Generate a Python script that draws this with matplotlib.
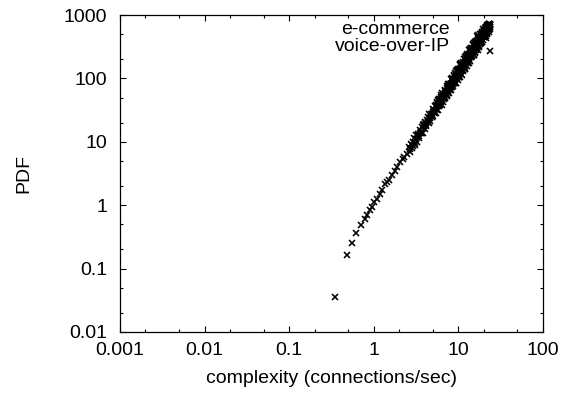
import matplotlib
matplotlib.use("Agg")
import matplotlib.pyplot as plt
from matplotlib.ticker import LogLocator, NullFormatter, FixedLocator

plt.rcParams['font.family'] = ['Liberation Sans', 'DejaVu Sans']

# e-commerce: sparse low tail plus part of the dense band
ecom_x = [0.35, 0.479, 0.557, 0.617, 0.70, 0.787, 0.83, 0.902, 0.95, 1.01,
          1.08, 1.18, 1.25, 1.36, 1.45, 1.52, 1.65, 1.78, 1.9, 2.04,
          2.2, 2.3, 2.45,
          2.6, 2.8, 3.0, 3.2, 3.4, 3.6, 3.8, 4.0, 4.2, 4.5,
          4.75, 5.0, 5.3, 5.6, 5.9, 6.2, 6.5, 6.8, 7.1, 7.4,
          7.7, 8.0, 8.3, 8.6, 8.9, 9.2, 9.6, 10.0, 10.4, 10.8,
          11.2, 11.6, 12.0, 12.5, 13.0, 13.5, 14.0, 14.5, 15.0, 15.6,
          16.2, 16.8, 17.4, 18.0, 18.6, 19.2, 19.8, 20.4, 21.0, 21.6,
          22.2, 22.8, 23.4, 24.0, 24.0,
          9.3, 9.5, 9.7, 9.9, 10.1, 10.3, 10.5, 10.7, 10.9, 11.1,
          11.3, 11.5, 11.7, 11.9, 12.12, 12.37, 12.62, 12.87, 13.12, 13.37,
          13.62, 13.87, 14.12, 14.37, 14.62, 14.87, 15.15, 15.45, 15.75, 16.05,
          16.35, 16.65, 16.95, 17.25, 17.55, 17.85, 18.15, 18.45, 18.75, 19.05,
          19.35, 19.65, 19.95, 20.25, 20.55, 20.85, 21.15, 21.45, 21.75, 22.05,
          22.35, 22.65, 22.95, 23.25, 23.55, 23.85,
          5.1, 5.25, 5.4, 5.55, 5.7, 5.85, 6.0, 6.15, 6.3, 6.45,
          6.6, 6.75, 6.9, 7.05, 7.2, 7.35, 7.5, 7.65, 7.8, 7.95,
          8.1, 8.25, 8.4, 8.55, 8.7, 8.85, 9.0, 9.15]
ecom_y = [0.035, 0.164, 0.253, 0.359, 0.48, 0.613, 0.70, 0.851, 0.95, 1.11,
          1.27, 1.51, 1.75, 2.17, 2.35, 2.51, 3.0, 3.52, 4.0, 4.77,
          5.4, 5.8, 6.48,
          8.3, 9.0, 11.5, 11.2, 11.6, 14.0, 14.0, 15.9, 18.6, 19.6,
          27.9, 29.5, 37.2, 43.2, 43.3, 54.7, 49.1, 48.0, 56.6, 54.0,
          59.3, 69.6, 66.9, 98.4, 98.2, 121, 138, 132, 170, 141,
          131, 155, 141, 157, 187, 175, 279, 274, 335, 379,
          361, 460, 380, 351, 415, 374, 408, 477, 438, 686,
          663, 734, 705, 706, 270,
          84.9, 132, 112, 141, 104, 140, 122, 177, 115, 157,
          136, 185, 162, 142, 219, 187, 234, 173, 233, 202,
          292, 190, 259, 225, 305, 266, 234, 362, 309, 386,
          284, 382, 332, 478, 310, 421, 366, 495, 431, 377,
          522, 490, 546, 444, 592, 510, 656, 470, 636, 548,
          705, 639, 575, 730, 657, 711,
          31.5, 29.0, 38.1, 31.4, 37.4, 47.3, 39.8, 37.7, 50.6, 49.3,
          53.6, 48.9, 63.4, 51.7, 60.7, 76.1, 63.5, 59.3, 78.9, 76.1,
          82.2, 74.2, 95.3, 77.3, 90.0, 112, 92.7, 86.0]

# voice-over-IP: the rest of the dense band
voip_x = [2.7, 2.9, 3.1, 3.3, 3.5, 3.7, 3.9, 4.1, 4.35, 4.6,
          4.9, 5.15, 5.45, 5.75, 6.05, 6.35, 6.65, 6.95, 7.25, 7.55,
          7.85, 8.15, 8.45, 8.75, 9.05, 9.4, 9.8, 10.2, 10.6, 11.0,
          11.4, 11.8, 12.25, 12.75, 13.25, 13.75, 14.25, 14.75, 15.3, 15.9,
          16.5, 17.1, 17.7, 18.3, 18.9, 19.5, 20.1, 20.7, 21.3, 21.9,
          22.5, 23.1, 23.7,
          2.65, 2.75, 2.85, 2.95, 3.05, 3.15, 3.25, 3.35, 3.45, 3.55,
          3.65, 3.75, 3.85, 3.95, 4.05, 4.15, 4.27, 4.42, 4.55, 4.68,
          4.82, 4.95,
          5.07, 5.22, 5.37, 5.52, 5.67, 5.82, 5.97, 6.12, 6.27, 6.42,
          6.57, 6.72, 6.87, 7.02, 7.17, 7.32, 7.47, 7.62, 7.77, 7.92,
          8.07, 8.22, 8.37, 8.52, 8.67, 8.82, 8.97, 9.12,
          9.45, 9.65, 9.85, 10.05, 10.25, 10.45, 10.65, 10.85, 11.05, 11.25,
          11.45, 11.65, 11.85, 12.05, 12.3, 12.55, 12.8, 13.05, 13.3, 13.55,
          13.8, 14.05, 14.3, 14.55, 14.8, 15.1, 15.4, 15.7, 16.0, 16.3,
          16.6, 16.9, 17.2, 17.5, 17.8, 18.1, 18.4, 18.7, 19.0, 19.3,
          19.6, 19.9, 20.2, 20.5, 20.8, 21.1, 21.4, 21.7, 22.0, 22.3,
          22.6, 22.9, 23.2, 23.5, 23.8]
voip_y = [7.0, 8.6, 9.0, 13.1, 13.9, 17.0, 19.4, 19.9, 24.9, 23.9,
          24.8, 29.1, 28.6, 32.3, 38.9, 38.3, 57.6, 58.7, 71.5, 80.4,
          78.5, 96.6, 84.7, 81.1, 93.8, 84.6, 94.4, 113, 106, 169,
          166, 204, 229, 219, 281, 233, 216, 257, 233, 259,
          307, 286, 453, 444, 542, 603, 565, 628, 579, 528,
          617, 549, 651,
          7.6, 9.2, 8.0, 10.1, 9.6, 12.6, 10.1, 12.7, 12.2, 15.2,
          14.5, 13.9, 18.7, 17.5, 20.6, 17.6, 21.7, 20.9, 27.0, 21.5,
          27.2, 25.9,
          32.8, 30.6, 28.1, 41.0, 37.0, 45.2, 36.3, 46.9, 42.9, 58.4,
          42.2, 54.7, 49.6, 64.6, 59.1, 53.5, 76.8, 68.4, 82.6, 65.2,
          83.2, 75.2, 101, 72.5, 93.1, 83.4, 108, 97.3,
          116, 100, 137, 104, 126, 165, 130, 119, 167, 158,
          172, 149, 202, 153, 185, 241, 191, 173, 246, 233,
          254, 220, 299, 225, 272, 354, 280, 255, 362, 342,
          373, 322, 438, 331, 399, 496, 407, 367, 516, 486,
          526, 453, 571, 460, 551, 636, 556, 500, 670, 656,
          688, 606, 720, 611, 707]

x_ticks = [0.001, 0.01, 0.1, 1, 10, 100]
x_labels = ['0.001', '0.01', '0.1', '1', '10', '100']
y_ticks = [0.01, 0.1, 1, 10, 100, 1000]
y_labels = ['0.01', '0.1', '1', '10', '100', '1000']

fig = plt.figure(figsize=(5.70, 3.97), dpi=100)
ax = fig.add_axes([0.2105, 0.164, 0.742, 0.798])

ax.plot(ecom_x, ecom_y, ls='none', marker='x', ms=4.2, mew=1.15, color='black')
ax.plot(voip_x, voip_y, ls='none', marker='x', ms=4.2, mew=1.15, color='black')

ax.set_xscale('log')
ax.set_yscale('log')
ax.set_xlim(0.001, 100)
ax.set_ylim(0.01, 1000)

ax.xaxis.set_major_locator(FixedLocator(x_ticks))
ax.set_xticklabels(x_labels)
ax.yaxis.set_major_locator(FixedLocator(y_ticks))
ax.set_yticklabels(y_labels)
ax.xaxis.set_minor_locator(LogLocator(base=10, subs=(2, 5)))
ax.yaxis.set_minor_locator(LogLocator(base=10, subs=(2, 5)))
ax.xaxis.set_minor_formatter(NullFormatter())
ax.yaxis.set_minor_formatter(NullFormatter())

ax.tick_params(which='both', direction='in', top=True, right=True, labelsize=14, width=0.8)
ax.tick_params(which='major', length=4.5)
ax.tick_params(which='minor', length=2.2)
ax.tick_params(axis='x', pad=7.5)
ax.tick_params(axis='y', pad=9)
for s in ax.spines.values():
    s.set_linewidth(0.9)

ax.set_xlabel('complexity (connections/sec)', fontsize=14, labelpad=8)
ax.set_ylabel('PDF', fontsize=14, labelpad=23)

ax.text(0.78, 0.94, 'e-commerce', transform=ax.transAxes, ha='right', va='baseline', fontsize=14)
ax.text(0.78, 0.886, 'voice-over-IP', transform=ax.transAxes, ha='right', va='baseline', fontsize=14)

fig.savefig('out.png', dpi=100)
